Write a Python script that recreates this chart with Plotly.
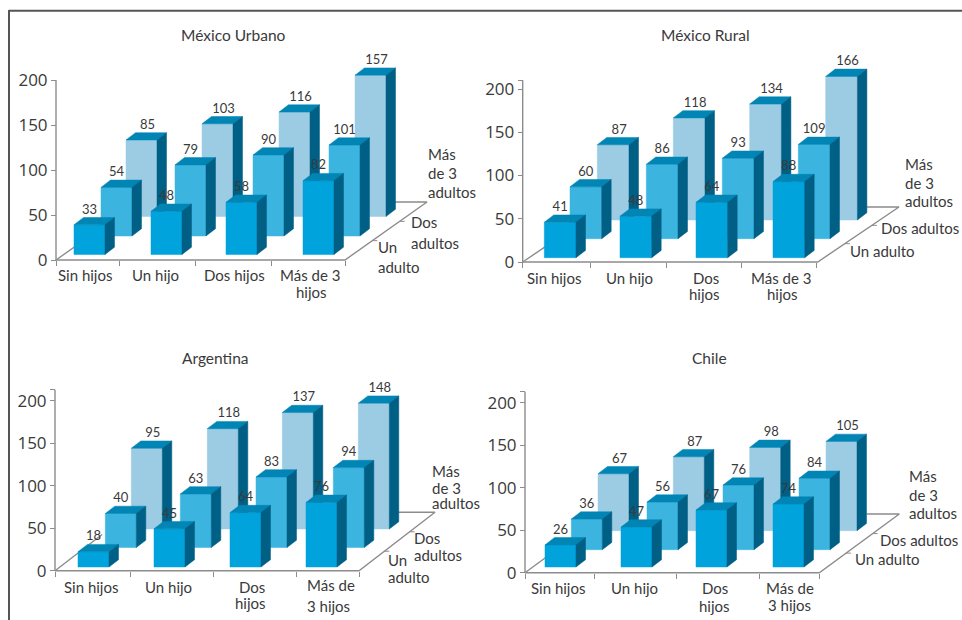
import plotly.graph_objects as go

W, H = 962, 620

# Household-type values per panel: one row per number of adults, one column per number of children.
titles = ["México Urbano", "México Rural", "Argentina", "Chile"]
un_adulto = [[33, 48, 58, 82], [41, 48, 64, 88], [18, 45, 64, 76], [26, 47, 67, 74]]
dos_adultos = [[54, 79, 90, 101], [60, 86, 93, 109], [40, 63, 83, 94], [36, 56, 76, 84]]
mas_adultos = [[85, 103, 116, 157], [87, 118, 134, 166], [95, 118, 137, 148], [67, 87, 98, 105]]
y_ticks = [0, 50, 100, 150, 200]

# Panel geometry in page pixels.
panels = [
    dict(ox=56, oy=260, k=0.90, axis_top=200, right=345, corner=(427, 202), back=395,
         ticks=[119.3, 195, 271, 345], width=31,
         lefts=[[74, 151, 226, 303], [101, 175, 253, 329], [126, 202, 279, 355]], bottoms=[254.5, 236, 216.5]),
    dict(ox=522.7, oy=262, k=0.865, axis_top=210, right=817.7, corner=(899, 207), back=866.7,
         ticks=[590, 666, 741.7, 816.7], width=31.7,
         lefts=[[544.3, 620, 696, 773], [570, 646.3, 722.3, 798.3], [597.3, 673.3, 749.7, 825.7]], bottoms=[257.7, 238.7, 220]),
    dict(ox=55, oy=570.7, k=0.85, axis_top=213, right=359, corner=(435, 512.3), back=388,
         ticks=[130, 213.3, 296, 359], width=31,
         lefts=[[78, 154, 230, 306], [105.3, 180.3, 256, 333.3], [131.3, 207.3, 282.3, 358.3]], bottoms=[567, 547.5, 529]),
    dict(ox=525, oy=572.7, k=0.85, axis_top=213, right=819.3, corner=(899.3, 514), back=866.7,
         ticks=[594.3, 676.7, 759, 819], width=31,
         lefts=[[545, 621, 696, 773], [571.3, 647, 723, 799], [598, 673.3, 749.7, 826]], bottoms=[567, 549.7, 530.7]),
]
DEPTH_X, DEPTH_Y = 9.5, 7.3

FRONT = ["#00A3DC", "#3BB4E0", "#9CCBE4"]
TOP = "#0085B5"
SIDE = "#005F85"
AXIS = "#8C8C8C"
INK = "#3A3A3A"
LABEL_FONT = "Lato"
TEXT_LIFT = 1  # annotation boxes sit slightly low for this font

# Text placed around each panel: (text, x, y, anchor).
title_pos = [(233, 36), (705, 36), (215.7, 359), (709.3, 359)]
outer_labels = [
    [("Sin hijos", 85, 276, "center"), ("Un hijo", 155, 276, "center"), ("Dos hijos", 234, 276, "center"),
     ("Más de 3", 310, 276, "center"), ("hijos", 311, 293, "center"),
     ("Más", 426, 155, "left"), ("de 3", 426, 174, "left"), ("adultos", 426, 193, "left"),
     ("Dos", 409, 223, "left"), ("adultos", 409, 244, "left"),
     ("Un", 376, 248, "left"), ("adulto", 376, 268, "left")],
    [("Sin hijos", 554, 279, "center"), ("Un hijo", 629, 279, "center"), ("Dos", 705.7, 279, "center"),
     ("hijos", 704.7, 295, "center"), ("Más de 3", 781, 279, "center"), ("hijos", 782, 295, "center"),
     ("Más", 902.7, 165, "left"), ("de 3", 902.7, 184, "left"), ("adultos", 902.7, 202, "left"),
     ("Dos adultos", 878.7, 229, "left"), ("Un adulto", 848, 252, "left")],
    [("Sin hijos", 91, 587.7, "center"), ("Un hijo", 168, 587.7, "center"), ("Dos", 251.7, 587.7, "center"),
     ("hijos", 250.7, 604, "center"), ("Más de", 331, 585.7, "center"), ("3 hijos", 328.7, 606.7, "center"),
     ("Más", 430, 472.3, "left"), ("de 3", 430, 489, "left"), ("adultos", 430, 504.3, "left"),
     ("Dos", 412, 539.3, "left"), ("adultos", 412, 555.7, "left"),
     ("Un", 386, 561, "left"), ("adulto", 386, 577.7, "left")],
    [("Sin hijos", 558.3, 589, "center"), ("Un hijo", 634.3, 589, "center"), ("Dos", 715.3, 589, "center"),
     ("hijos", 714.3, 606.7, "center"), ("Más de", 789.7, 589, "center"), ("3 hijos", 789.3, 605.7, "center"),
     ("Más", 906.7, 477.3, "left"), ("de 3", 906.7, 495.7, "left"), ("adultos", 906.7, 514, "left"),
     ("Dos adultos", 878.3, 540.7, "left"), ("Un adulto", 853.3, 560.3, "left")],
]

fig = go.Figure()
layout = {}
annotations = []


def line_trace(xs, ys, axes, width=1.4):
    fig.add_trace(go.Scatter(x=xs, y=ys, mode="lines", line=dict(color=AXIS, width=width),
                             hoverinfo="skip", showlegend=False, **axes))


def polygon(ring, color, axes):
    xs = [q[0] for q in ring] + [ring[0][0]]
    ys = [q[1] for q in ring] + [ring[0][1]]
    fig.add_trace(go.Scatter(x=xs, y=ys, mode="lines", fill="toself", fillcolor=color,
                             line=dict(width=0.5, color=color), hoverinfo="skip",
                             showlegend=False, **axes))


for p, panel in enumerate(panels):
    suffix = "" if p == 0 else str(p + 1)
    axes = dict(xaxis="x" + suffix, yaxis="y" + suffix)
    ox, oy, k = panel["ox"], panel["oy"], panel["k"]
    x_span = 385
    pad_px = 8
    top_px = 48 if p < 2 else 372
    y_max = (oy - top_px) / k
    layout["xaxis" + suffix] = dict(
        domain=[(ox - pad_px) / W, (ox + x_span) / W], range=[-pad_px, x_span],
        anchor="free", position=1 - oy / H, showgrid=False, zeroline=False, showline=False,
        tickmode="array", tickvals=[0] + [t - ox for t in panel["ticks"]], ticks="outside",
        ticklen=5, tickwidth=1.4, tickcolor=AXIS, showticklabels=False, fixedrange=True)
    top_tick = panel["axis_top"]
    tick_vals = y_ticks + ([top_tick] if top_tick > y_ticks[-1] else [])
    tick_text = [str(v) for v in y_ticks] + ([""] if top_tick > y_ticks[-1] else [])
    layout["yaxis" + suffix] = dict(
        domain=[1 - (oy + pad_px) / H, 1 - top_px / H], range=[-pad_px / k, y_max],
        anchor="free", position=ox / W, showgrid=False, zeroline=False, showline=False,
        tickmode="array", tickvals=tick_vals, ticktext=tick_text, ticks="outside",
        ticklen=5, tickwidth=1.4, tickcolor=AXIS, fixedrange=True,
        tickfont=dict(family="Open Sans", size=17, color=INK))

    # Floor outline and value axis.
    right = panel["right"] - ox
    cx, cy = panel["corner"][0] - ox, (oy - panel["corner"][1]) / k
    back = panel["back"] - ox
    line_trace([0, 0], [top_tick, 0], axes)
    line_trace([0, right, cx, back], [0, 0, cy, cy], axes)
    # Left floor edge runs parallel to the right one, stopping behind the first bars.
    line_trace([0, (cx - right) * 0.62], [0, cy * 0.62], axes)
    for f in (1 / 3, 2 / 3):
        sx, sy = right + (cx - right) * f, cy * f
        line_trace([sx, sx + 5], [sy, sy], axes, width=1)

    # Bars, back row first so nearer rows cover them.
    rows = [un_adulto[p], dos_adultos[p], mas_adultos[p]]
    w = panel["width"]
    dx, dy = DEPTH_X, DEPTH_Y / k
    text_x, text_y, text_s = [], [], []
    for s in (2, 1, 0):
        base = (oy - panel["bottoms"][s]) / k
        for c, value in enumerate(rows[s]):
            x0 = panel["lefts"][s][c] - ox
            x1 = x0 + w
            y1 = base + value
            polygon([(x0, base), (x1, base), (x1, y1), (x0, y1)], FRONT[s], axes)
            polygon([(x0, y1), (x1, y1), (x1 + dx, y1 + dy), (x0 + dx, y1 + dy)], TOP, axes)
            polygon([(x1, base), (x1 + dx, base + dy), (x1 + dx, y1 + dy), (x1, y1)], SIDE, axes)
            text_x.append(x0 + w / 2 + (6 if s == 2 else 0))
            text_y.append(y1 + 14.5 / k)
            text_s.append(str(value))
    fig.add_trace(go.Scatter(x=text_x, y=text_y, text=text_s, mode="text", textposition="middle center",
                             textfont=dict(family=LABEL_FONT, size=13, color=INK), cliponaxis=False,
                             hoverinfo="skip", showlegend=False, **axes))

    annotations.append(dict(text=titles[p], x=title_pos[p][0] / W, y=1 - (title_pos[p][1] - TEXT_LIFT) / H,
                            xref="paper", yref="paper", xanchor="center", yanchor="middle", showarrow=False,
                            font=dict(family=LABEL_FONT, size=15.5, color=INK)))
    for text, x, y, anchor in outer_labels[p]:
        annotations.append(dict(text=text, x=x / W, y=1 - (y - TEXT_LIFT) / H, xref="paper", yref="paper",
                                xanchor=anchor, yanchor="middle", showarrow=False,
                                font=dict(family=LABEL_FONT, size=15, color=INK)))

frame = [
    dict(type="line", xref="paper", yref="paper", x0=9 / W, x1=1, y0=1 - 10.7 / H, y1=1 - 10.7 / H,
         line=dict(color="#555555", width=2)),
    dict(type="line", xref="paper", yref="paper", x0=9 / W, x1=9 / W, y0=1 - 10 / H, y1=0,
         line=dict(color="#555555", width=2)),
]

fig.update_layout(width=W, height=H, margin=dict(l=0, r=0, t=0, b=0, autoexpand=False), paper_bgcolor="white",
                  plot_bgcolor="rgba(0,0,0,0)", showlegend=False, annotations=annotations,
                  shapes=frame, **layout)
fig.write_html("out.html")
